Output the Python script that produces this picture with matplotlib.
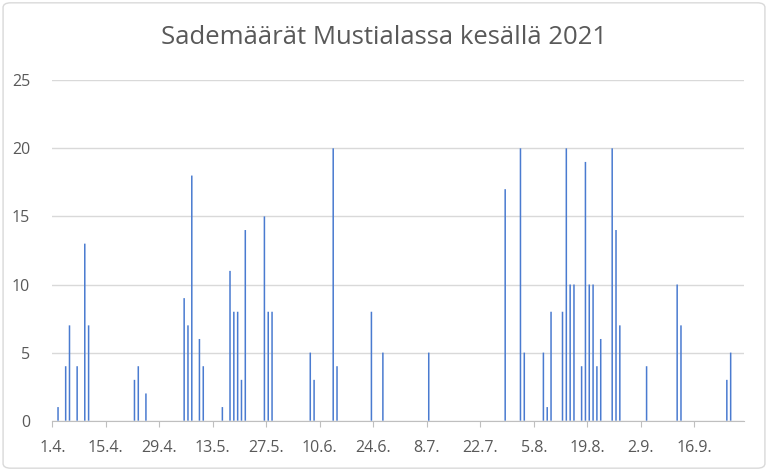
import matplotlib.pyplot as plt
import pandas as pd
from matplotlib.patches import FancyBboxPatch

# rain days (day.month.) and amounts, summer 2021
dates = ['2.4.', '4.4.', '5.4.', '7.4.', '9.4.', '10.4.', '22.4.', '23.4.', '25.4.',
         '5.5.', '6.5.', '7.5.', '9.5.', '10.5.', '15.5.', '17.5.', '18.5.', '19.5.',
         '20.5.', '21.5.', '26.5.', '27.5.', '28.5.', '7.6.', '8.6.', '13.6.', '14.6.',
         '23.6.', '26.6.', '8.7.', '28.7.', '1.8.', '2.8.', '7.8.', '8.8.', '9.8.',
         '12.8.', '13.8.', '14.8.', '15.8.', '17.8.', '18.8.', '19.8.', '20.8.', '21.8.',
         '22.8.', '25.8.', '26.8.', '27.8.', '3.9.', '11.9.', '12.9.', '24.9.', '25.9.']
rain = [1, 4, 7, 4, 13, 7, 3, 4, 2,
        9, 7, 18, 6, 4, 1, 11, 8, 8,
        3, 14, 15, 8, 8, 5, 3, 20, 4,
        8, 5, 5, 17, 20, 5, 5, 1, 8,
        8, 20, 10, 10, 4, 19, 10, 10, 4,
        6, 20, 14, 7, 4, 10, 7, 3, 5]
tick_labels = ['1.4.', '15.4.', '29.4.', '13.5.', '27.5.', '10.6.', '24.6.',
               '8.7.', '22.7.', '5.8.', '19.8.', '2.9.', '16.9.']

start = pd.Timestamp('2021-04-01')
def to_day(s):
    d, m = s.strip('.').split('.')
    return (pd.Timestamp(2021, int(m), int(d)) - start).days

days = [to_day(s) for s in dates]
tick_days = [to_day(s) for s in tick_labels]

plt.rcParams['font.family'] = ['Open Sans', 'DejaVu Sans']
grey = '#595959'

fig = plt.figure(figsize=(7.68, 4.71), dpi=100)
ax = fig.add_axes([0.0681, 0.1068, 0.9007, 0.7229])

bars = ax.bar([d + 0.5 for d in days], rain, width=0.4, color='#4A7BD0', linewidth=0, zorder=3)
for b in bars:
    b.set_snap(False)

ax.set_xlim(0, 181)
ax.set_ylim(0, 25)
ax.set_yticks(range(0, 26, 5))
ax.set_xticks(tick_days)
ax.set_xticklabels(tick_labels)
ax.yaxis.grid(True, color='#D9D9D9', linewidth=1)
ax.set_axisbelow(True)

for s in ['left', 'right', 'top']:
    ax.spines[s].set_visible(False)
ax.spines['bottom'].set_color('#BFBFBF')
ax.tick_params(axis='y', length=0, labelsize=11.5, labelcolor=grey, pad=16)
ax.tick_params(axis='x', length=4, color='#BFBFBF', labelsize=11.5, labelcolor=grey, pad=10)

fig.text(0.5, 0.92, 'Sademäärät Mustialassa kesällä 2021', ha='center', va='center',
         fontsize=18.5, color=grey)

# light chart border
fig.patches.append(FancyBboxPatch((0.004, 0.006), 0.992, 0.988, boxstyle='round,pad=0,rounding_size=0.01',
                                  transform=fig.transFigure, fill=False, edgecolor='#D9D9D9', linewidth=1))

fig.savefig('out.png', dpi=100)
